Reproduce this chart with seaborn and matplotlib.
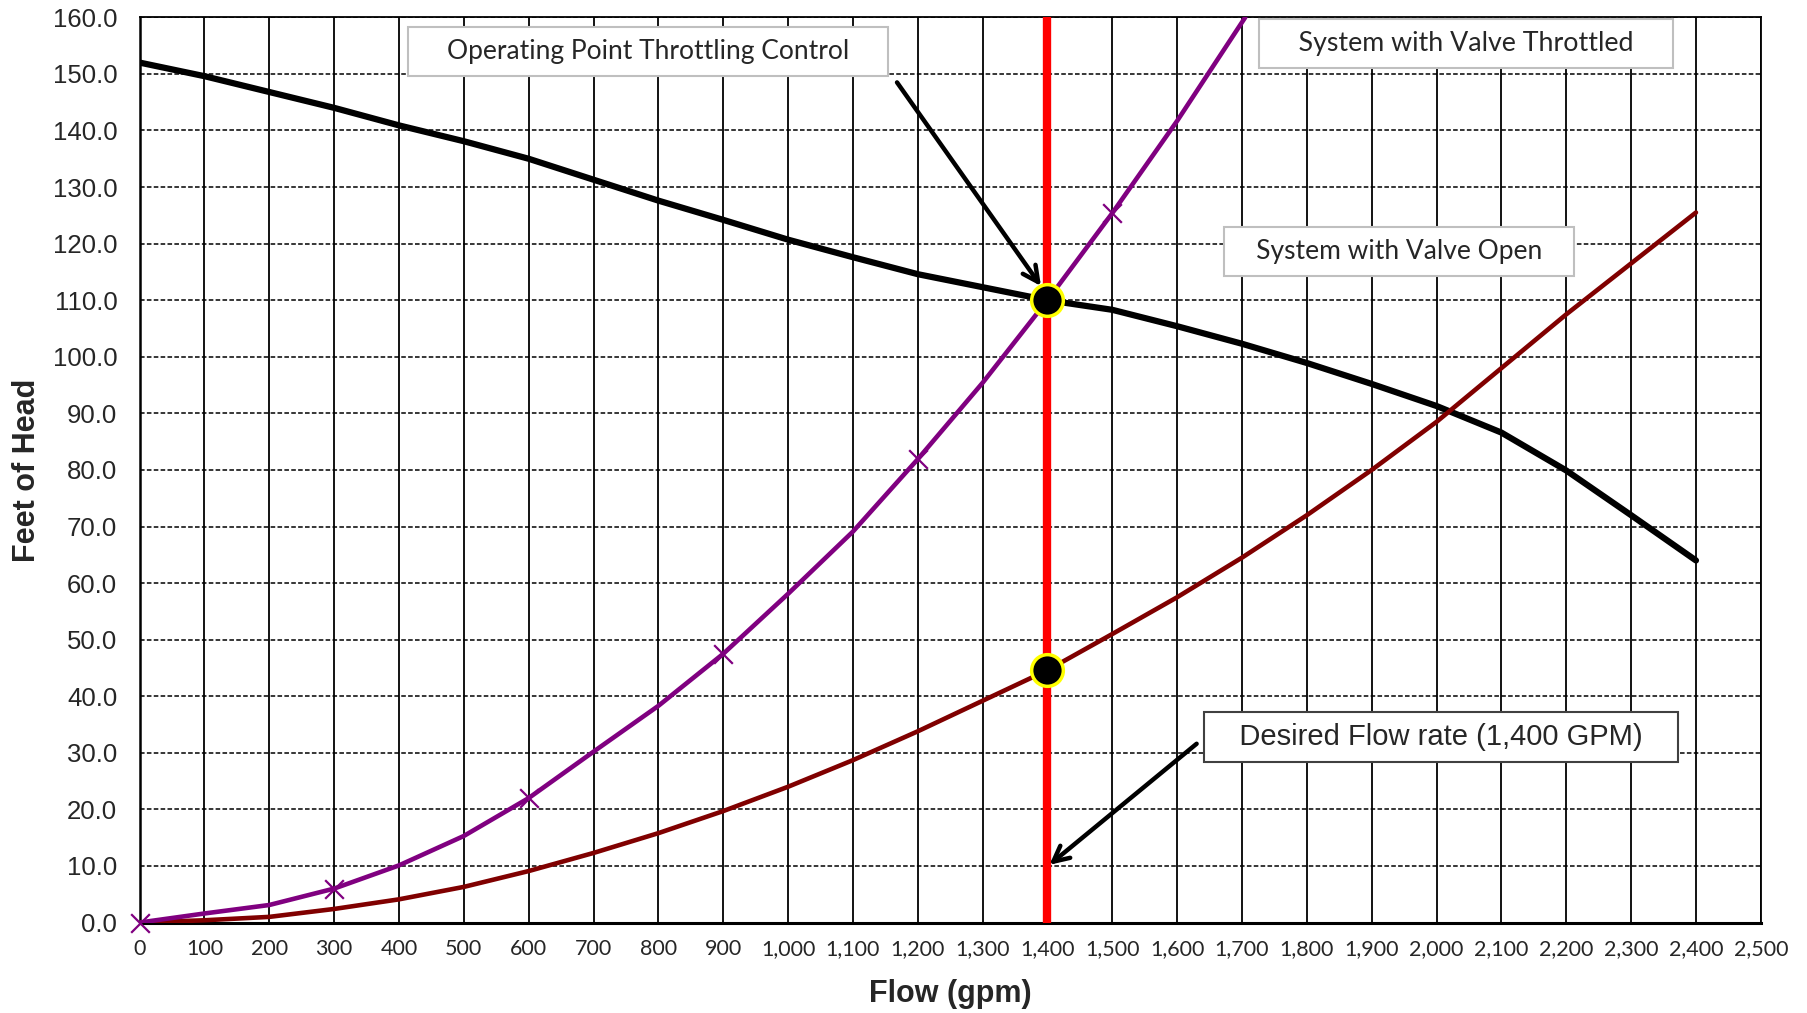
import numpy as np
import pandas as pd
import seaborn as sns
from matplotlib import pyplot as plt
from matplotlib import ticker

# flow (gpm) and head (ft)
flow = [0, 100, 200, 300, 400, 500, 600, 700, 800, 900, 1000, 1100, 1200,
        1300, 1400, 1500, 1600, 1700, 1800, 1900, 2000, 2100, 2200, 2300, 2400]
pump_head = [152.0, 149.6, 146.8, 144.0, 140.9, 138.1, 135.0, 131.3, 127.6, 124.2,
             120.7, 117.6, 114.6, 112.3, 110.0, 108.3, 105.4, 102.3, 98.9, 95.2,
             91.3, 86.6, 79.9, 72.0, 64.0]
valve_open = [0.0, 0.4, 1.0, 2.4, 4.1, 6.3, 9.1, 12.3, 15.8, 19.7, 24.0, 28.7, 33.8,
              39.2, 44.6, 51.0, 57.5, 64.5, 72.0, 80.0, 88.5, 98.0, 107.5, 116.5, 125.5]

flow_thr = [0, 100, 200, 300, 400, 500, 600, 700, 800, 900, 1000, 1100, 1200,
            1300, 1400, 1500, 1600, 1705]
valve_thr = [0.0, 1.6, 3.1, 6.0, 10.1, 15.3, 22.0, 30.2, 38.3, 47.5, 58.1, 69.1,
             81.9, 95.4, 110.0, 125.4, 141.7, 160.0]
marker_flow = [0, 300, 600, 900, 1200, 1500]
marker_head = [0.0, 6.0, 22.0, 47.5, 81.9, 125.4]

design_flow = 1400
op_points = [110.0, 44.6]

sns.set_style("white")
plt.rcParams['font.family'] = ['Liberation Sans', 'DejaVu Sans']

fig = plt.figure(figsize=(18.08, 10.13), dpi=100)
ax = fig.add_axes([0.0772, 0.0893, 0.8967, 0.8936])

ax.set_xlim(0, 2500)
ax.set_ylim(0, 160)
ax.set_xticks(range(0, 2501, 100))
ax.set_yticks(range(0, 161, 10))
ax.xaxis.set_major_formatter(ticker.FuncFormatter(lambda v, p: f"{v:,.0f}"))
ax.yaxis.set_major_formatter(ticker.FormatStrFormatter('%.1f'))
ax.tick_params(axis='y', length=0, pad=16, labelsize=18.5)
ax.tick_params(axis='x', length=0, pad=12, labelsize=15.5)
for lab in ax.get_xticklabels():
    lab.set_family(['Lato', 'DejaVu Sans'])

ax.set_axisbelow(True)
ax.grid(axis='x', color='black', lw=1.3, ls='-')
ax.grid(axis='y', color='black', lw=1.1, ls=(0, (3, 1.5)))
for s in ax.spines.values():
    s.set_color('black')
    s.set_linewidth(1.3)
ax.spines['bottom'].set_linewidth(2.2)
ax.spines['left'].set_linewidth(1.8)

sns.lineplot(x=flow, y=pump_head, ax=ax, color='black', lw=4.5, zorder=3)
sns.lineplot(x=flow, y=valve_open, ax=ax, color='#800000', lw=3.3, zorder=3)
sns.lineplot(x=flow_thr, y=valve_thr, ax=ax, color='#800080', lw=3.3, zorder=3)
sns.scatterplot(x=marker_flow, y=marker_head, ax=ax, marker='x', s=180,
                color='#800080', linewidth=1.6, zorder=4, clip_on=False)

ax.axvline(design_flow, color='#FF0000', lw=6, zorder=5)
sns.scatterplot(x=[design_flow] * 2, y=op_points, ax=ax, s=520, color='black',
                edgecolor='#FFFF00', linewidth=2.5, zorder=6)

box_light = dict(boxstyle='square,pad=0.45', fc='white', ec='#BFBFBF', lw=1.5)
calibri = ['Lato', 'DejaVu Sans']
ax.text(784, 153.9, '    Operating Point Throttling Control    ', ha='center', va='center',
        fontsize=19, family=calibri, bbox=box_light, zorder=7)
ax.text(2045, 155.4, '    System with Valve Throttled    ', ha='center', va='center',
        fontsize=19.3, family=calibri, bbox=box_light, zorder=7)
ax.text(1942, 118.6, '   System with Valve Open   ', ha='center', va='center',
        fontsize=19, family=calibri, bbox=box_light, zorder=7)
ax.text(2007, 32.8, '   Desired Flow rate (1,400 GPM)   ', ha='center', va='center',
        fontsize=21, bbox=dict(boxstyle='square,pad=0.38', fc='white', ec='#404040', lw=1.5),
        zorder=7)

arrow = dict(arrowstyle='->', lw=3.2, color='black', mutation_scale=28, shrinkA=0, shrinkB=0)
ax.annotate('', xy=(1390, 112.5), xytext=(1168, 148.5), arrowprops=arrow, zorder=8)
ax.annotate('', xy=(1403, 10.2), xytext=(1630, 31.6), arrowprops=arrow, zorder=8)

ax.set_xlabel('Flow (gpm)', fontsize=22, fontweight='bold', labelpad=14)
ax.set_ylabel('Feet of Head', fontsize=22, fontweight='bold', labelpad=8)

fig.savefig('out.png', dpi=100)
